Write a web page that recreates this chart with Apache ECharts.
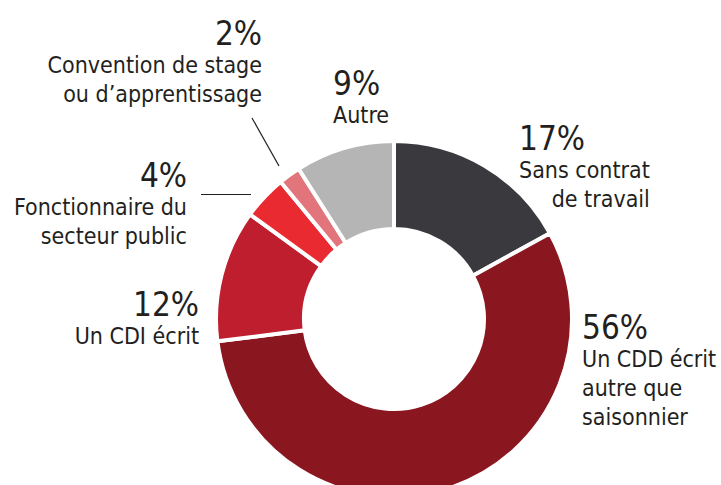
<!DOCTYPE html>
<html>
<head>
<meta charset="utf-8">
<script src="https://cdn.jsdelivr.net/npm/echarts@6/dist/echarts.min.js"></script>
<style>
  html, body { margin: 0; padding: 0; background: #fff; }
  #chart { width: 721px; height: 485px; }
</style>
</head>
<body>
<div id="chart"></div>
<script>
// data
const categories = [
  'Sans contrat\nde travail',
  'Un CDD écrit\nautre que\nsaisonnier',
  'Un CDI écrit',
  'Fonctionnaire du\nsecteur public',
  'Convention de stage\nou d’apprentissage',
  'Autre'
]
const shares = [17, 56, 12, 4, 2, 9]
const colors = ['#3a393d', '#8a1620', '#be1e2d', '#e92a31', '#e2747b', '#b5b5b5']

// label placement: x, y, block side, percent align, text align
const labelAnchors = [
  [519, 121, 'left', 'L', 'R'],
  [582, 310, 'left', 'L', 'L'],
  [199, 287, 'right', 'R', 'R'],
  [187, 158, 'right', 'R', 'R'],
  [262, 16, 'right', 'R', 'R'],
  [333, 66, 'left', 'L', 'L']
]
const leaderLines = {
  3: [[251, 194.5], [226, 194.5], [201, 194.5]],
  4: [[279, 166], [265.5, 142], [252, 118]]
}

const chart = echarts.init(document.getElementById('chart'), null, { renderer: 'svg' })

const font = '"DejaVu Sans Condensed", "DejaVu Sans", sans-serif'
const ink = '#231f20'

const option = {
  animation: false,
  series: [
    {
      type: 'pie',
      center: [394, 319],
      radius: [90, 178],
      startAngle: 90,
      clockwise: true,
      avoidLabelOverlap: false,
      itemStyle: {
        borderColor: '#fff',
        borderWidth: 4
      },
      label: {
        show: true,
        position: 'outside',
        color: ink,
        fontFamily: font,
        formatter: function (p) {
          const a = labelAnchors[p.dataIndex]
          const lines = p.name.split('\n').map(function (t) {
            return '{d' + a[4] + '|' + t + '}'
          })
          return '{p' + a[3] + '|' + p.value + '%}\n' + lines.join('\n')
        },
        rich: {
          pL: { fontSize: 33, lineHeight: 34, align: 'left', fontFamily: font, color: ink },
          pR: { fontSize: 33, lineHeight: 34, align: 'right', fontFamily: font, color: ink },
          dL: { fontSize: 23, lineHeight: 29, align: 'left', fontFamily: font, color: ink },
          dR: { fontSize: 23, lineHeight: 29, align: 'right', fontFamily: font, color: ink }
        }
      },
      labelLine: {
        show: false,
        lineStyle: { color: ink, width: 1.2 }
      },
      labelLayout: function (params) {
        const a = labelAnchors[params.dataIndex]
        const res = { x: a[0], y: a[1], align: a[2], verticalAlign: 'top' }
        if (leaderLines[params.dataIndex]) {
          res.labelLinePoints = leaderLines[params.dataIndex]
        }
        return res
      },
      data: shares.map(function (v, i) {
        return {
          value: v,
          name: categories[i],
          itemStyle: { color: colors[i] },
          labelLine: { show: !!leaderLines[i] }
        }
      })
    }
  ]
}

chart.setOption(option)
</script>
</body>
</html>
